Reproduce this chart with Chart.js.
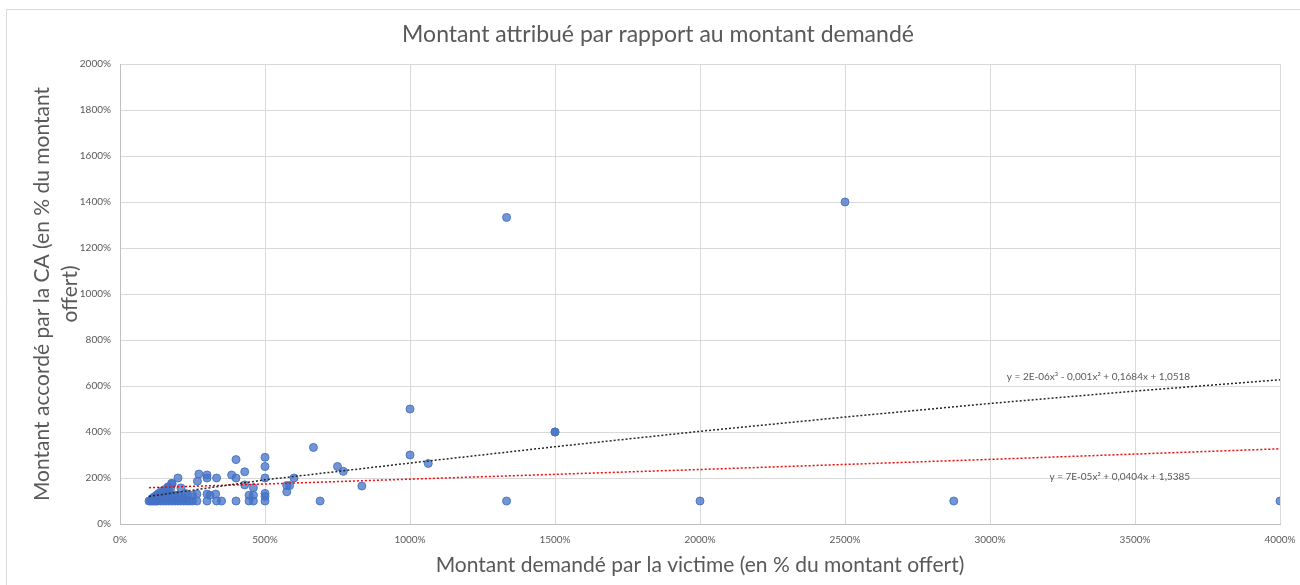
<!DOCTYPE html>
<html>
<head>
<meta charset="utf-8">
<script src="https://cdn.jsdelivr.net/npm/chart.js@4.4.1/dist/chart.umd.min.js"></script>
<style>
  html, body { margin: 0; padding: 0; background: #fff; }
  #wrap { width: 1300px; height: 585px; }
</style>
</head>
<body>
<div id="wrap"><canvas id="scatterChart" width="1300" height="585"></canvas></div>
<script>
// values in % (demandé, accordé)
const demande = [
  1333, 2500, 1500, 1500, 1333, 2000, 2875, 4000, 1000, 1000, 1063,
  834, 750, 770, 667, 690, 600, 575, 585, 575, 500, 500, 500, 500, 500, 500,
  460, 460, 460, 445, 445, 430, 430, 400, 400, 385, 400, 333, 330, 333, 350,
  300, 300, 300, 310, 300, 272, 267, 265, 250, 265, 210, 200, 180, 167,
  100, 105, 110, 115, 120, 125, 130, 140, 150, 160, 170, 180, 190, 200, 210, 220, 230, 240,
  110, 120, 125, 133, 140, 150, 150, 160, 167, 175, 178,
  120, 130, 140, 150, 160, 170, 133, 143, 155, 165, 150, 160, 170, 180, 190, 200, 200,
  210, 220, 225, 233, 250, 125, 117, 110
];
const accorde = [
  1333, 1400, 400, 400, 100, 100, 100, 100, 500, 300, 263,
  165, 250, 229, 333, 100, 200, 167, 167, 140, 290, 250, 200, 133, 120, 100,
  158, 125, 100, 125, 100, 227, 170, 280, 200, 213, 100, 200, 130, 100, 100,
  213, 200, 130, 125, 100, 217, 186, 130, 100, 100, 157, 200, 175, 162,
  100, 100, 100, 100, 100, 100, 100, 100, 100, 100, 100, 100, 100, 100, 100, 100, 100, 100,
  110, 115, 120, 125, 130, 133, 140, 145, 150, 155, 177,
  110, 110, 115, 120, 125, 130, 133, 143, 150, 160, 110, 110, 115, 120, 125, 125, 110,
  120, 110, 133, 125, 125, 125, 117, 108
];

// trendlines
const trendX = [100, 500, 1000, 1500, 2000, 2500, 3000, 3500, 4000];
const trendPoly3 = [120, 192, 265, 336, 403, 465, 524, 578, 627];
const trendPoly2 = [158, 174, 195, 216, 237, 259, 281, 304, 327];

const xTicks = [0, 500, 1000, 1500, 2000, 2500, 3000, 3500, 4000];
const yTicks = [0, 200, 400, 600, 800, 1000, 1200, 1400, 1600, 1800, 2000];

const FONT = 'Lato, "Noto Sans", sans-serif';
const GREY = '#595959';

const toXY = (xs, ys) => xs.map((x, i) => ({ x: x, y: ys[i] }));

// white background, outer frame and the chart title
const frame = {
    id: 'frame',
    beforeDraw(chart, args, opts) {
        const c = chart.ctx;
        c.save();
        c.fillStyle = '#fff';
        c.fillRect(0, 0, chart.width, chart.height);
        c.strokeStyle = '#d9d9d9';
        c.lineWidth = 1;
        c.beginPath();
        c.moveTo(6.5, chart.height);
        c.lineTo(6.5, 9.5);
        c.lineTo(chart.width, 9.5);
        c.stroke();
        c.font = '23px ' + FONT;
        c.fillStyle = GREY;
        c.textAlign = 'center';
        c.textBaseline = 'middle';
        c.fillText(opts.title, 658, 35);
        c.restore();
    }
};

const trendLabels = {
    id: 'trendLabels',
    afterDatasetsDraw(chart, args, opts) {
        const c = chart.ctx;
        const xs = chart.scales.x, ys = chart.scales.y;
        c.save();
        c.font = '10px ' + FONT;
        c.fillStyle = GREY;
        c.textAlign = 'right';
        c.textBaseline = 'middle';
        opts.items.forEach(it => {
            c.fillText(it.text, xs.getPixelForValue(it.x), ys.getPixelForValue(it.y));
        });
        c.restore();
    }
};

const ctx = document.getElementById('scatterChart').getContext('2d');
const scatterChart = new Chart(ctx, {
    type: 'scatter',
    data: {
        datasets: [
            {
                label: 'Poly. (3)',
                data: toXY(trendX, trendPoly3),
                showLine: true,
                borderColor: '#262626',
                borderWidth: 1.5,
                borderDash: [2, 2],
                pointRadius: 0,
                fill: false,
                order: 0
            },
            {
                label: 'Poly. (2)',
                data: toXY(trendX, trendPoly2),
                showLine: true,
                borderColor: '#ff0000',
                borderWidth: 1.5,
                borderDash: [2, 2],
                pointRadius: 0,
                fill: false,
                order: 0
            },
            {
                label: 'Montant',
                data: toXY(demande, accorde),
                backgroundColor: 'rgba(68, 114, 196, 0.75)',
                borderColor: 'rgba(68, 114, 196, 0.9)',
                borderWidth: 1,
                pointRadius: 4,
                order: 1
            }
        ]
    },
    options: {
        responsive: false,
        animation: false,
        layout: { padding: { top: 64, left: 0, right: 20, bottom: 0 } },
        plugins: {
            legend: { display: false },
            tooltip: { enabled: false },
            title: { display: false },
            frame: { title: 'Montant attribué par rapport au montant demandé' },
            trendLabels: {
                items: [
                    { text: 'y = 2E-06x³ - 0,001x² + 0,1684x + 1,0518', x: 3690, y: 639 },
                    { text: 'y = 7E-05x² + 0,0404x + 1,5385', x: 3690, y: 204 }
                ]
            }
        },
        scales: {
            x: {
                type: 'linear',
                min: 0,
                max: 4000,
                afterBuildTicks: s => { s.ticks = xTicks.map(v => ({ value: v })); },
                afterFit: s => { s.height = 61; s.paddingLeft = 0; s.paddingRight = 0; },
                ticks: {
                    color: GREY,
                    font: { family: FONT, size: 10 },
                    padding: 10,
                    callback: v => v + '%'
                },
                grid: { color: '#d9d9d9', drawTicks: false },
                border: { color: '#bfbfbf' },
                title: {
                    display: true,
                    text: 'Montant demandé par la victime (en % du montant offert)',
                    color: GREY,
                    font: { family: FONT, size: 21, weight: 'normal', lineHeight: 1.35 },
                    padding: { top: 0, bottom: 6 }
                }
            },
            y: {
                type: 'linear',
                min: 0,
                max: 2000,
                afterBuildTicks: s => { s.ticks = yTicks.map(v => ({ value: v })); },
                afterFit: s => { s.width = 120; s.paddingTop = 0; s.paddingBottom = 0; },
                ticks: {
                    color: GREY,
                    font: { family: FONT, size: 10 },
                    padding: 9,
                    callback: v => v + '%'
                },
                grid: { color: '#d9d9d9', drawTicks: false },
                border: { color: '#bfbfbf' },
                title: {
                    display: true,
                    text: ['Montant accordé par la CA (en % du montant', 'offert)'],
                    color: GREY,
                    font: { family: FONT, size: 21, weight: 'normal', lineHeight: 1.33 },
                    padding: { top: 28, bottom: 0 }
                }
            }
        }
    },
    plugins: [frame, trendLabels]
});
</script>
</body>
</html>
